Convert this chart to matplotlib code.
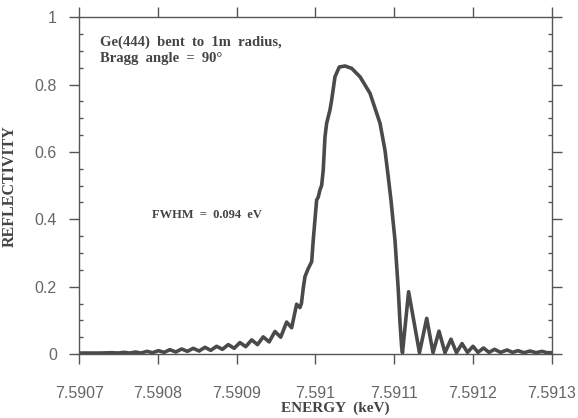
import matplotlib.pyplot as plt
from matplotlib.ticker import MultipleLocator

# reflectivity curve (energy in keV)
energy = [
    7.5907000, 7.5907263, 7.5907415, 7.5907492, 7.5907568, 7.5907644, 7.5907714, 7.5907784,
    7.5907860, 7.5907932, 7.5908006, 7.5908078, 7.5908152, 7.5908226, 7.5908301, 7.5908374,
    7.5908448, 7.5908523, 7.5908597, 7.5908670, 7.5908745, 7.5908819, 7.5908893, 7.5908968,
    7.5909041, 7.5909115, 7.5909190, 7.5909264, 7.5909337, 7.5909412, 7.5909486, 7.5909559,
    7.5909634, 7.5909698, 7.5909761, 7.5909803,
    7.5909822, 7.5909845, 7.5909867, 7.5909909, 7.5909952, 7.5909972, 7.5910015, 7.5910036,
    7.5910057, 7.5910079, 7.5910099, 7.5910121, 7.5910142, 7.5910184, 7.5910206, 7.5910248,
    7.5910303, 7.5910375, 7.5910460, 7.5910566, 7.5910693, 7.5910820, 7.5910883, 7.5910925,
    7.5910959, 7.5911010, 7.5911052, 7.5911074, 7.5911095, 7.5911105,
    7.5911183, 7.5911321, 7.5911413, 7.5911493, 7.5911569, 7.5911645, 7.5911721, 7.5911791,
    7.5911861, 7.5911931, 7.5912001, 7.5912064, 7.5912134, 7.5912204, 7.5912274, 7.5912350,
    7.5912433, 7.5912503, 7.5912572, 7.5912649, 7.5912725, 7.5912801, 7.5912877, 7.5912941,
    7.5913000,
]
reflectivity = [
    0.003, 0.003, 0.004, 0.003, 0.005, 0.003, 0.006, 0.003,
    0.008, 0.004, 0.010, 0.005, 0.013, 0.006, 0.015, 0.008,
    0.017, 0.009, 0.020, 0.011, 0.023, 0.014, 0.028, 0.017,
    0.034, 0.022, 0.042, 0.028, 0.051, 0.036, 0.067, 0.050,
    0.095, 0.078, 0.148, 0.138,
    0.150, 0.195, 0.230, 0.254, 0.274, 0.338, 0.457, 0.466,
    0.487, 0.501, 0.546, 0.644, 0.685, 0.724, 0.754, 0.823,
    0.852, 0.855, 0.848, 0.823, 0.774, 0.685, 0.605, 0.525,
    0.457, 0.338, 0.190, 0.092, 0.020, 0.004,
    0.185, 0.004, 0.106, 0.004, 0.068, 0.004, 0.044, 0.004,
    0.031, 0.005, 0.023, 0.005, 0.018, 0.005, 0.014, 0.005,
    0.012, 0.005, 0.010, 0.004, 0.009, 0.004, 0.008, 0.004,
    0.004,
]

x_ticks = [7.5907, 7.5908, 7.5909, 7.5910, 7.5911, 7.5912, 7.5913]
x_labels = ["7.5907", "7.5908", "7.5909", "7.591", "7.5911", "7.5912", "7.5913"]
y_ticks = [0, 0.2, 0.4, 0.6, 0.8, 1]
y_labels = ["0", "0.2", "0.4", "0.6", "0.8", "1"]

gray = "#555555"
serif = ["Liberation Serif", "DejaVu Serif"]

fig = plt.figure(figsize=(5.78, 4.18), dpi=100)
ax = fig.add_axes([0.137, 0.153, 0.8175, 0.806])

ax.plot(energy, reflectivity, color="#4a4a4a", lw=2.6, solid_joinstyle="round")

ax.set_xlim(7.5907, 7.5913)
ax.set_ylim(0, 1)
ax.set_xticks(x_ticks)
ax.set_xticklabels(x_labels)
ax.set_yticks(y_ticks)
ax.set_yticklabels(y_labels)
ax.yaxis.set_minor_locator(MultipleLocator(0.05))

for s in ax.spines.values():
    s.set_color(gray)
    s.set_linewidth(1.0)

ax.tick_params(axis="both", which="major", direction="out", length=7, width=1,
               color=gray, labelcolor="#666666", labelsize=11.5, pad=9,
               top=True, right=True, labeltop=False, labelright=False)
ax.tick_params(axis="x", which="major", pad=16)
ax.tick_params(axis="y", which="minor", direction="in", length=3, width=1,
               color=gray, left=True, right=True)
for lab in ax.get_xticklabels() + ax.get_yticklabels():
    lab.set_family(["Liberation Sans", "DejaVu Sans"])

fig.text(0.58, 0.006, "ENERGY  (keV)", family=serif, fontweight="bold", fontsize=11,
         color="#444444", ha="center", va="bottom")
ax.set_ylabel("REFLECTIVITY", family=serif, fontweight="bold", fontsize=11.5, color="#444444")
ax.yaxis.set_label_coords(-0.13, 0.5)

ax.text(0.044, 0.945, "Ge(444)  bent  to  1m  radius,\nBragg  angle  =  90°",
        transform=ax.transAxes, family=serif, fontweight="bold", fontsize=10.5,
        color="#444444", va="top", ha="left", linespacing=1.3)
ax.text(0.154, 0.412, "FWHM  =  0.094  eV", transform=ax.transAxes, family=serif,
        fontweight="bold", fontsize=9, color="#444444", va="center", ha="left")

fig.savefig("out.png", dpi=100)
